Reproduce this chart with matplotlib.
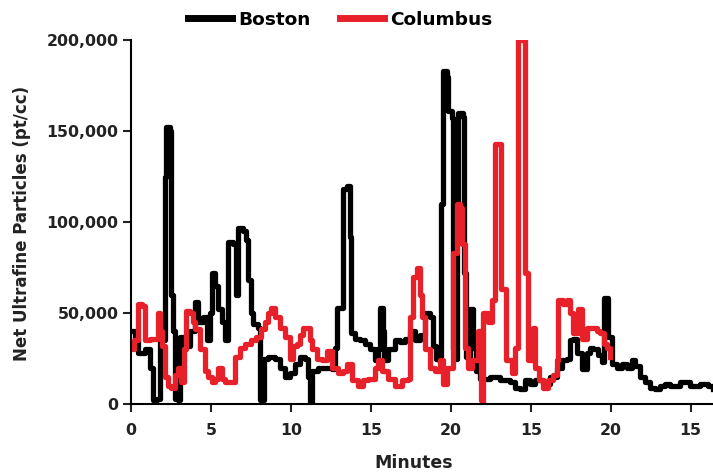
import matplotlib.pyplot as plt
from matplotlib.ticker import FuncFormatter

# (minutes, net ultrafine particles in thousands pt/cc)
boston = [(0.0, 40), (0.25, 36), (0.44, 28), (0.88, 30), (1.19, 20), (1.38, 2), (1.63, 3),
          (1.81, 37), (2.0, 35), (2.13, 125), (2.19, 152), (2.44, 150), (2.5, 60),
          (2.63, 40), (2.75, 3), (2.94, 2), (3.06, 37), (3.38, 32), (3.69, 40), (4.0, 56),
          (4.19, 45), (4.5, 48), (4.75, 35), (4.94, 50), (5.06, 72), (5.25, 65), (5.44, 52),
          (5.69, 45), (5.88, 35), (6.06, 89), (6.38, 88), (6.56, 60), (6.69, 97), (7.0, 95),
          (7.19, 90), (7.31, 68), (7.5, 50), (7.63, 44), (7.94, 42), (8.06, 2), (8.19, 2),
          (8.31, 25), (8.56, 26), (9.0, 25), (9.31, 20), (9.63, 15), (9.94, 17), (10.25, 22),
          (10.56, 26), (10.88, 25), (11.06, 15), (11.19, 0), (11.31, 18), (11.69, 20),
          (12.13, 20), (12.56, 19), (12.75, 31), (12.88, 53), (13.13, 53), (13.25, 118),
          (13.5, 120), (13.69, 92), (13.75, 39), (14.0, 36), (14.31, 35), (14.63, 33),
          (14.94, 30), (15.25, 24), (15.44, 30), (15.56, 53), (15.75, 40), (15.81, 24),
          (16.06, 30), (16.5, 35), (16.81, 34), (17.13, 36), (17.44, 40), (17.75, 35),
          (18.06, 38), (18.38, 50), (18.69, 48), (18.88, 32), (19.06, 25), (19.25, 24),
          (19.38, 110), (19.5, 183), (19.75, 180), (19.81, 161), (20.06, 157), (20.13, 30),
          (20.25, 25), (20.38, 110), (20.44, 160), (20.75, 158), (20.81, 72), (20.94, 26),
          (21.19, 52), (21.38, 31), (21.56, 18), (21.81, 14), (22.44, 15), (23.06, 13),
          (23.69, 12), (24.0, 9), (24.31, 8), (24.63, 13), (24.94, 11), (25.25, 13),
          (25.75, 11), (26.19, 15), (26.63, 20), (26.94, 24), (27.25, 25), (27.44, 35),
          (27.63, 36), (27.88, 28), (28.19, 19), (28.5, 28), (28.69, 31), (28.88, 30),
          (29.19, 27), (29.44, 23), (29.56, 58), (29.69, 58), (29.81, 37), (30.06, 22),
          (30.38, 20), (30.69, 22), (31.0, 20), (31.31, 24), (31.5, 21), (31.81, 15),
          (32.13, 12), (32.44, 9), (32.75, 8), (33.06, 10), (33.38, 11), (33.69, 10),
          (34.31, 12), (34.94, 10), (35.56, 11), (36.06, 10), (36.4, 8)]

columbus = [(0.0, 30), (0.19, 35), (0.44, 55), (0.69, 54), (0.88, 35), (1.19, 36), (1.38, 36),
            (1.69, 50), (1.81, 40), (1.94, 32), (2.13, 15), (2.31, 10), (2.5, 9), (2.75, 16),
            (2.94, 20), (3.13, 12), (3.31, 30), (3.44, 51), (3.69, 50), (3.88, 45), (4.0, 41),
            (4.31, 30), (4.63, 18), (4.81, 15), (5.06, 12), (5.25, 14), (5.44, 20), (5.69, 14),
            (5.88, 12), (6.25, 12), (6.5, 26), (6.81, 31), (7.13, 33), (7.5, 35), (7.81, 37),
            (8.13, 41), (8.38, 45), (8.56, 50), (8.75, 53), (9.0, 48), (9.31, 42), (9.63, 37),
            (9.94, 25), (10.13, 32), (10.38, 33), (10.56, 38), (10.75, 42), (11.0, 42),
            (11.19, 35), (11.31, 30), (11.63, 25), (11.94, 24), (12.25, 29), (12.56, 20),
            (12.94, 17), (13.25, 18), (13.5, 22), (13.81, 13), (14.19, 10), (14.5, 13),
            (14.81, 14), (15.25, 20), (15.44, 24), (15.69, 18), (16.06, 14), (16.5, 10),
            (16.94, 13), (17.31, 14), (17.44, 48), (17.63, 70), (17.88, 75), (18.06, 60),
            (18.19, 48), (18.38, 30), (18.69, 20), (19.0, 18), (19.31, 24), (19.5, 11),
            (19.75, 20), (19.94, 20), (20.13, 83), (20.38, 110), (20.56, 108), (20.69, 88),
            (20.88, 31), (21.06, 20), (21.31, 24), (21.69, 40), (21.88, 2), (21.94, 0),
            (22.0, 50), (22.31, 45), (22.56, 57), (22.75, 143), (22.94, 143), (23.13, 63),
            (23.44, 24), (23.81, 17), (24.0, 31), (24.13, 31), (24.19, 200), (24.44, 200),
            (24.63, 72), (24.81, 24), (25.13, 42), (25.25, 20), (25.5, 13), (25.75, 9),
            (26.06, 13), (26.38, 16), (26.63, 24), (26.69, 57), (27.0, 55), (27.25, 57),
            (27.44, 50), (27.63, 39), (27.94, 52), (28.19, 36), (28.5, 42), (28.88, 42),
            (29.13, 40), (29.31, 39), (29.56, 33), (29.75, 31), (29.94, 26)]

boston_min, boston_val = zip(*boston)
columbus_min, columbus_val = zip(*columbus)

y_ticks = [0, 50000, 100000, 150000, 200000]
x_ticks = [0, 5, 10, 15, 20, 25, 30, 35]
x_tick_labels = ['0', '5', '10', '15', '20', '15', '20', '15']

plt.rcParams['font.family'] = 'DejaVu Sans'

fig = plt.figure(figsize=(7.13, 4.72), dpi=100)
ax = fig.add_axes([0.1837, 0.144, 0.8163, 0.771])

# Draw both traces
ax.plot(boston_min, [v * 1000 for v in boston_val], color='black', lw=3.8,
        drawstyle='steps-post', label='Boston')
ax.plot(columbus_min, [v * 1000 for v in columbus_val], color='#e8202a', lw=3.8,
        drawstyle='steps-post', label='Columbus')

ax.set_xlim(0, 36.4)
ax.set_ylim(0, 200000)
ax.set_yticks(y_ticks)
ax.yaxis.set_major_formatter(FuncFormatter(lambda v, p: f'{int(v):,}'))
ax.set_xticks(x_ticks)
ax.set_xticklabels(x_tick_labels)

for s in ['top', 'right']:
    ax.spines[s].set_visible(False)
for s in ['left', 'bottom']:
    ax.spines[s].set_linewidth(1.5)
ax.tick_params(width=1.5, length=6, labelsize=11.3, colors='#222222')
ax.tick_params(axis='x', pad=8)
ax.tick_params(axis='y', pad=3)
for t in ax.get_xticklabels() + ax.get_yticklabels():
    t.set_fontweight('bold')

ax.set_ylabel('Net Ultrafine Particles (pt/cc)', fontsize=12, fontweight='bold',
              color='#222222')
ax.yaxis.set_label_coords(-0.172, 0.495)
ax.set_xlabel('Minutes', fontsize=12.5, fontweight='bold', color='#222222')
ax.xaxis.set_label_coords(0.485, -0.138)

fig.legend(loc='center', bbox_to_anchor=(0.477, 0.958), ncol=2, frameon=False,
           handlelength=2.4, columnspacing=1.6, handletextpad=0.3,
           prop={'weight': 'bold', 'size': 13.3})
for line in fig.legends[0].get_lines():
    line.set_linewidth(5)

plt.savefig('out.png', dpi=100)
